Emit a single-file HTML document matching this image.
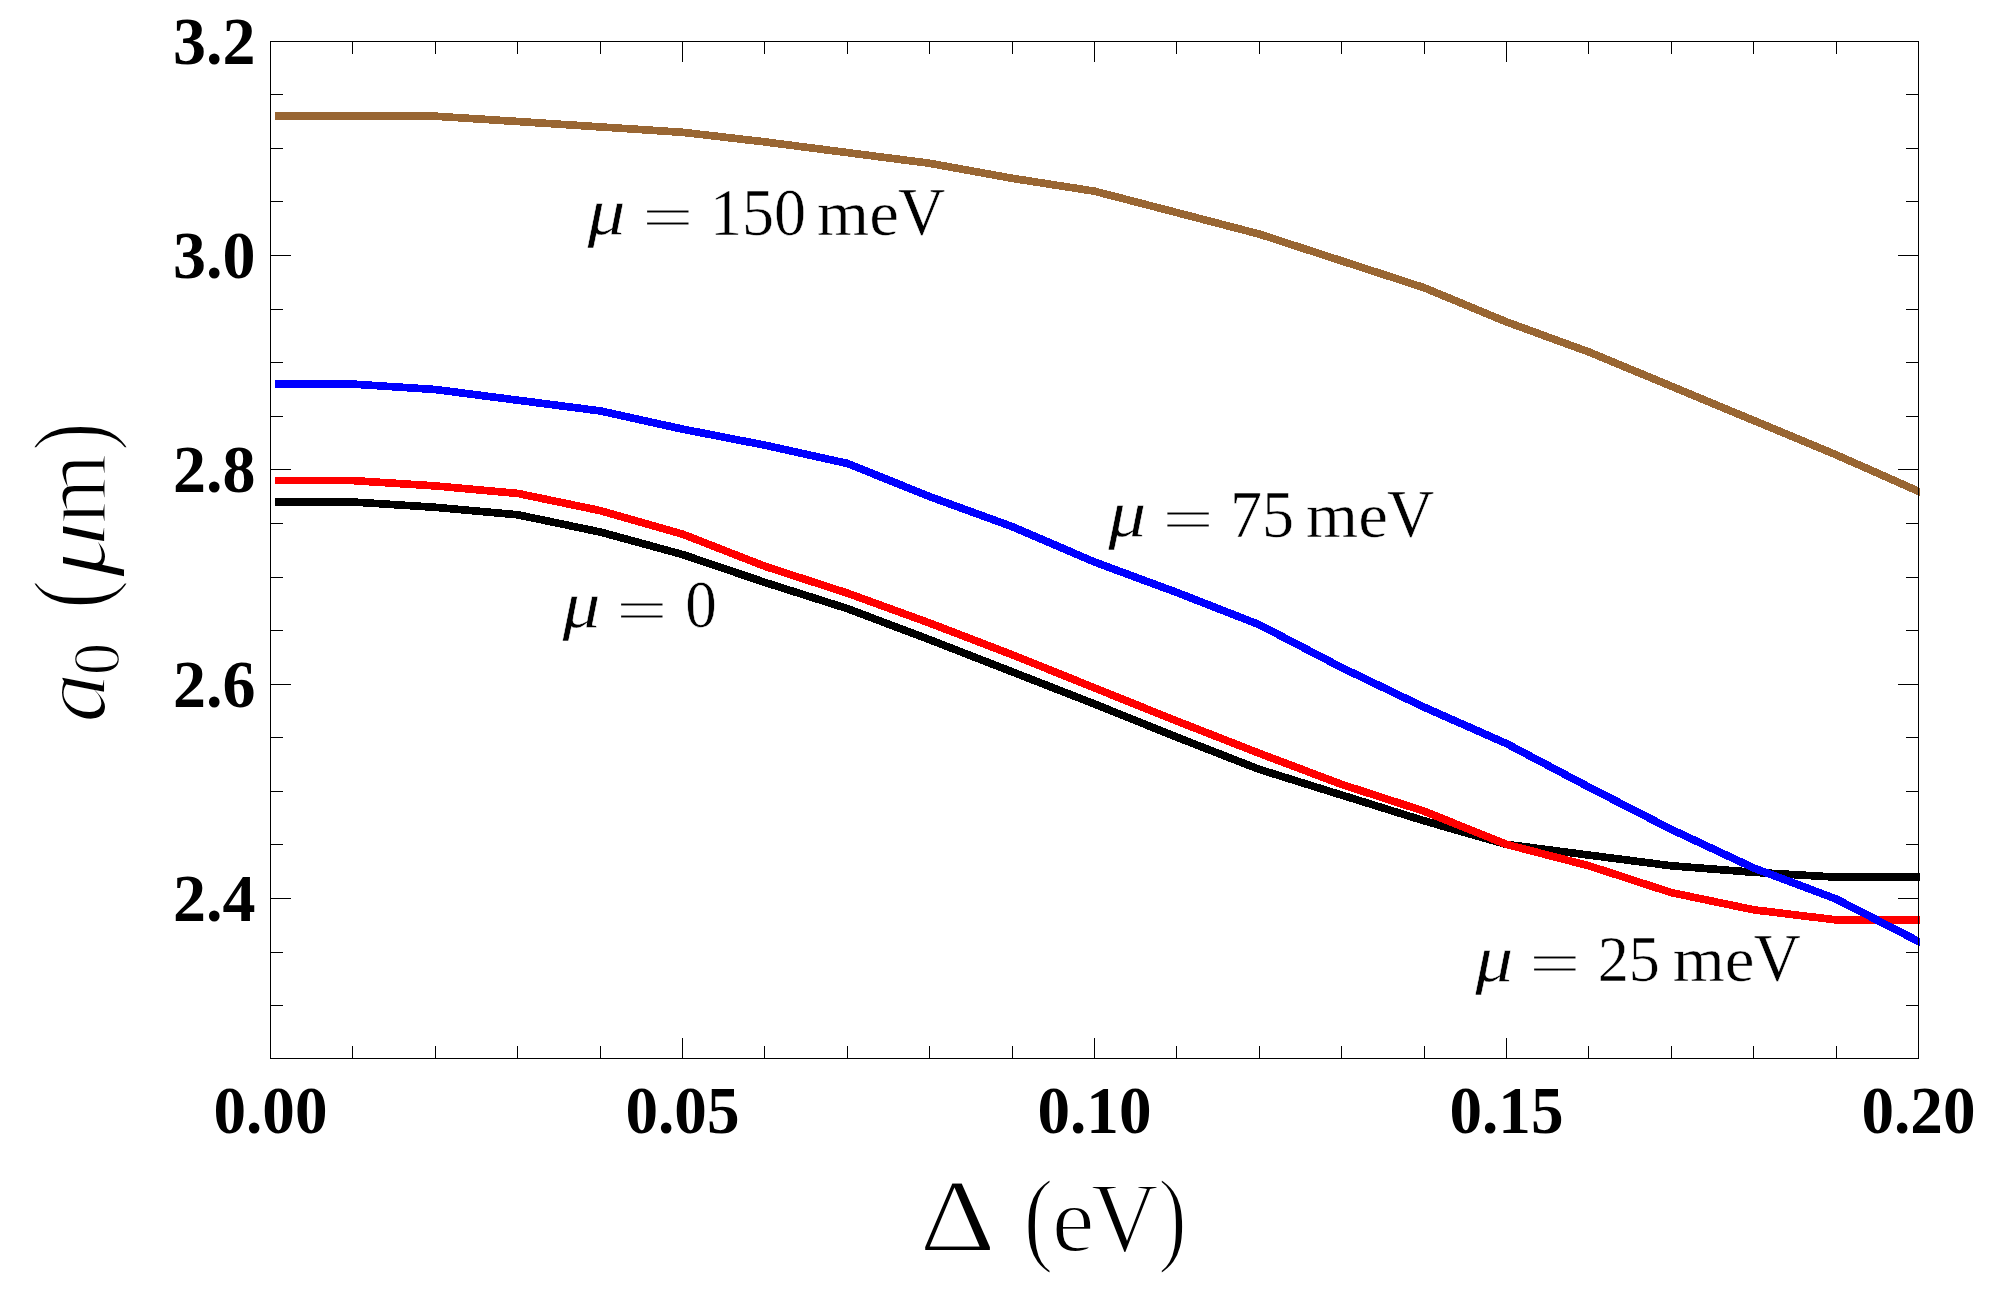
<!DOCTYPE html>
<html><head><meta charset="utf-8"><title>a0 vs Delta</title>
<style>html,body{margin:0;padding:0;background:#fff}svg{display:block}
.t{font-family:"Liberation Serif",serif;font-size:100px;fill:#000}
.i{font-style:italic}.b{font-weight:bold}
</style></head><body>

<svg width="1993" height="1292" viewBox="0 0 1993 1292">
<rect width="1993" height="1292" fill="#fff"/>
<defs><clipPath id="cp"><rect x="275" y="30" width="1645" height="1040"/></clipPath></defs>
<g clip-path="url(#cp)" fill="none" stroke-width="7.7" stroke-linejoin="round" shape-rendering="crispEdges">
<polyline points="265.0,502.0 352.9,502.0 435.3,507.3 517.7,514.8 600.1,532.0 682.5,554.5 764.9,582.4 847.3,608.6 929.7,639.7 1012.1,671.8 1094.5,704.0 1176.9,737.2 1259.3,769.4 1341.7,795.1 1424.1,820.8 1506.5,844.4 1588.9,855.1 1671.3,865.8 1753.7,872.3 1836.1,877.1 1930.0,877.1" stroke="#000000"/>
<polyline points="265.0,480.6 352.9,480.6 435.3,485.9 517.7,493.4 600.1,510.6 682.5,534.1 764.9,566.3 847.3,593.1 929.7,623.1 1012.1,654.7 1094.5,687.9 1176.9,721.1 1259.3,753.3 1341.7,784.4 1424.1,811.2 1506.5,844.4 1588.9,865.8 1671.3,892.6 1753.7,909.8 1836.1,919.9 1930.0,919.9" stroke="#ff0000"/>
<polyline points="265.0,384.1 352.9,384.1 435.3,389.5 517.7,400.2 600.1,410.9 682.5,429.1 764.9,445.2 847.3,463.4 929.7,496.6 1012.1,526.6 1094.5,562.0 1176.9,592.5 1259.3,624.7 1341.7,667.6 1424.1,707.2 1506.5,743.6 1588.9,787.1 1671.3,829.4 1753.7,868.0 1836.1,899.0 1930.0,947.3" stroke="#0000ff"/>
<polyline points="265.0,116.2 352.9,116.2 435.3,116.2 517.7,121.5 600.1,126.9 682.5,132.3 764.9,141.9 847.3,152.6 929.7,163.3 1012.1,178.3 1094.5,191.2 1176.9,212.6 1259.3,234.1 1341.7,260.9 1424.1,287.7 1506.5,321.9 1588.9,352.0 1671.3,386.2 1753.7,420.5 1836.1,454.8 1930.0,496.4" stroke="#996633"/>
</g>
<path d="M352.5 1058.0v-12.0M352.5 42.0v12.0M435.5 1058.0v-12.0M435.5 42.0v12.0M517.5 1058.0v-12.0M517.5 42.0v12.0M600.5 1058.0v-12.0M600.5 42.0v12.0M682.5 1058.0v-20.0M682.5 42.0v20.0M764.5 1058.0v-12.0M764.5 42.0v12.0M847.5 1058.0v-12.0M847.5 42.0v12.0M929.5 1058.0v-12.0M929.5 42.0v12.0M1012.5 1058.0v-12.0M1012.5 42.0v12.0M1094.5 1058.0v-20.0M1094.5 42.0v20.0M1176.5 1058.0v-12.0M1176.5 42.0v12.0M1259.5 1058.0v-12.0M1259.5 42.0v12.0M1341.5 1058.0v-12.0M1341.5 42.0v12.0M1424.5 1058.0v-12.0M1424.5 42.0v12.0M1506.5 1058.0v-20.0M1506.5 42.0v20.0M1588.5 1058.0v-12.0M1588.5 42.0v12.0M1671.5 1058.0v-12.0M1671.5 42.0v12.0M1753.5 1058.0v-12.0M1753.5 42.0v12.0M1836.5 1058.0v-12.0M1836.5 42.0v12.0M271.0 1005.5h12.0M1918.0 1005.5h-12.0M271.0 952.5h12.0M1918.0 952.5h-12.0M271.0 898.5h20.0M1918.0 898.5h-20.0M271.0 844.5h12.0M1918.0 844.5h-12.0M271.0 791.5h12.0M1918.0 791.5h-12.0M271.0 737.5h12.0M1918.0 737.5h-12.0M271.0 684.5h20.0M1918.0 684.5h-20.0M271.0 630.5h12.0M1918.0 630.5h-12.0M271.0 577.5h12.0M1918.0 577.5h-12.0M271.0 523.5h12.0M1918.0 523.5h-12.0M271.0 469.5h20.0M1918.0 469.5h-20.0M271.0 416.5h12.0M1918.0 416.5h-12.0M271.0 362.5h12.0M1918.0 362.5h-12.0M271.0 309.5h12.0M1918.0 309.5h-12.0M271.0 255.5h20.0M1918.0 255.5h-20.0M271.0 201.5h12.0M1918.0 201.5h-12.0M271.0 148.5h12.0M1918.0 148.5h-12.0M271.0 94.5h12.0M1918.0 94.5h-12.0" stroke="#000" stroke-width="1" fill="none" shape-rendering="crispEdges"/>
<rect x="270.5" y="41.5" width="1648.0" height="1017.0" fill="none" stroke="#000" stroke-width="1" shape-rendering="crispEdges"/>
<text class="t b" transform="matrix(0.6519 0 0 0.6680 213.46 1133.11)">0.00</text>
<text class="t b" transform="matrix(0.6519 0 0 0.6680 625.46 1133.11)">0.05</text>
<text class="t b" transform="matrix(0.6519 0 0 0.6680 1037.46 1133.11)">0.10</text>
<text class="t b" transform="matrix(0.6519 0 0 0.6680 1449.46 1133.11)">0.15</text>
<text class="t b" transform="matrix(0.6519 0 0 0.6680 1861.46 1133.11)">0.20</text>
<text class="t b" transform="matrix(0.6600 0 0 0.6679 172.90 63.77)">3.2</text>
<text class="t b" transform="matrix(0.6600 0 0 0.6679 172.90 278.10)">3.0</text>
<text class="t b" transform="matrix(0.6600 0 0 0.6679 172.90 492.44)">2.8</text>
<text class="t b" transform="matrix(0.6600 0 0 0.6679 172.90 706.77)">2.6</text>
<text class="t b" transform="matrix(0.6600 0 0 0.6679 172.90 921.10)">2.4</text>
<text class="t"><tspan x="587.55" y="234.40" font-size="64.90" textLength="37.97" lengthAdjust="spacingAndGlyphs" font-style="italic" stroke="#fff" stroke-width="0.50">μ</tspan> <tspan x="641.88" y="238.35" font-size="61.20" textLength="52.09" lengthAdjust="spacingAndGlyphs" stroke="#fff" stroke-width="1.00">=</tspan> <tspan x="709.90" y="234.58" font-size="66.83" textLength="96.10" lengthAdjust="spacingAndGlyphs" stroke="#fff" stroke-width="0.50">150</tspan> <tspan x="817.11" y="234.61" font-size="64.38" textLength="81.78" lengthAdjust="spacingAndGlyphs" stroke="#fff" stroke-width="0.50">me</tspan><tspan x="897.90" y="234.12" font-size="67.57" textLength="47.25" lengthAdjust="spacingAndGlyphs" stroke="#fff" stroke-width="0.50">V</tspan></text>
<text class="t"><tspan x="1108.25" y="536.40" font-size="64.90" textLength="37.97" lengthAdjust="spacingAndGlyphs" font-style="italic" stroke="#fff" stroke-width="0.50">μ</tspan> <tspan x="1161.98" y="540.35" font-size="61.20" textLength="52.09" lengthAdjust="spacingAndGlyphs" stroke="#fff" stroke-width="1.00">=</tspan> <tspan x="1229.98" y="536.56" font-size="68.55" textLength="64.03" lengthAdjust="spacingAndGlyphs" stroke="#fff" stroke-width="0.50">75</tspan> <tspan x="1306.11" y="536.61" font-size="64.37" textLength="81.78" lengthAdjust="spacingAndGlyphs" stroke="#fff" stroke-width="0.50">me</tspan><tspan x="1386.90" y="536.12" font-size="67.57" textLength="47.25" lengthAdjust="spacingAndGlyphs" stroke="#fff" stroke-width="0.50">V</tspan></text>
<text class="t"><tspan x="562.55" y="627.00" font-size="64.90" textLength="37.97" lengthAdjust="spacingAndGlyphs" font-style="italic" stroke="#fff" stroke-width="0.50">μ</tspan> <tspan x="615.68" y="630.95" font-size="61.20" textLength="52.09" lengthAdjust="spacingAndGlyphs" stroke="#fff" stroke-width="1.00">=</tspan> <tspan x="685.34" y="627.18" font-size="66.98" textLength="31.52" lengthAdjust="spacingAndGlyphs" stroke="#fff" stroke-width="0.50">0</tspan></text>
<text class="t"><tspan x="1475.25" y="980.50" font-size="64.90" textLength="37.97" lengthAdjust="spacingAndGlyphs" font-style="italic" stroke="#fff" stroke-width="0.50">μ</tspan> <tspan x="1528.88" y="984.45" font-size="61.20" textLength="52.09" lengthAdjust="spacingAndGlyphs" stroke="#fff" stroke-width="1.00">=</tspan> <tspan x="1597.76" y="980.68" font-size="66.53" textLength="62.18" lengthAdjust="spacingAndGlyphs" stroke="#fff" stroke-width="0.50">25</tspan> <tspan x="1672.71" y="980.71" font-size="64.37" textLength="81.78" lengthAdjust="spacingAndGlyphs" stroke="#fff" stroke-width="0.50">me</tspan><tspan x="1753.50" y="980.22" font-size="67.57" textLength="47.25" lengthAdjust="spacingAndGlyphs" stroke="#fff" stroke-width="0.50">V</tspan></text>
<text class="t"><tspan x="919.46" y="1250.80" font-size="103.03" textLength="76.04" lengthAdjust="spacingAndGlyphs" stroke="#fff" stroke-width="2.00">Δ</tspan> <tspan x="1023.40" y="1251.82" font-size="105.61" textLength="29.97" lengthAdjust="spacingAndGlyphs" stroke="#fff" stroke-width="2.40">(</tspan><tspan x="1051.74" y="1251.27" font-size="92.92" textLength="42.82" lengthAdjust="spacingAndGlyphs" stroke="#fff" stroke-width="2.00">e</tspan><tspan x="1090.76" y="1250.54" font-size="99.50" textLength="67.78" lengthAdjust="spacingAndGlyphs" stroke="#fff" stroke-width="2.00">V</tspan><tspan x="1157.90" y="1251.82" font-size="105.61" textLength="28.93" lengthAdjust="spacingAndGlyphs" stroke="#fff" stroke-width="2.40">)</tspan></text>
<text class="t" transform="translate(104.3,720) rotate(-90)"><tspan x="-2.80" y="1.07" font-size="93.33" textLength="49.96" lengthAdjust="spacingAndGlyphs" font-style="italic" stroke="#fff" stroke-width="2.00">a</tspan><tspan x="45.05" y="14.92" font-size="68.02" textLength="31.99" lengthAdjust="spacingAndGlyphs" stroke="#fff" stroke-width="1.40">0</tspan> <tspan x="111.08" y="1.70" font-size="105.72" textLength="29.32" lengthAdjust="spacingAndGlyphs" stroke="#fff" stroke-width="2.40">(</tspan><tspan x="142.50" y="0.44" font-size="94.01" textLength="56.48" lengthAdjust="spacingAndGlyphs" font-style="italic" stroke="#fff" stroke-width="2.00">μ</tspan><tspan x="196.20" y="1.00" font-size="93.19" textLength="70.11" lengthAdjust="spacingAndGlyphs" stroke="#fff" stroke-width="2.00">m</tspan><tspan x="269.00" y="1.70" font-size="105.72" textLength="28.93" lengthAdjust="spacingAndGlyphs" stroke="#fff" stroke-width="2.40">)</tspan></text>
</svg>
</body></html>
